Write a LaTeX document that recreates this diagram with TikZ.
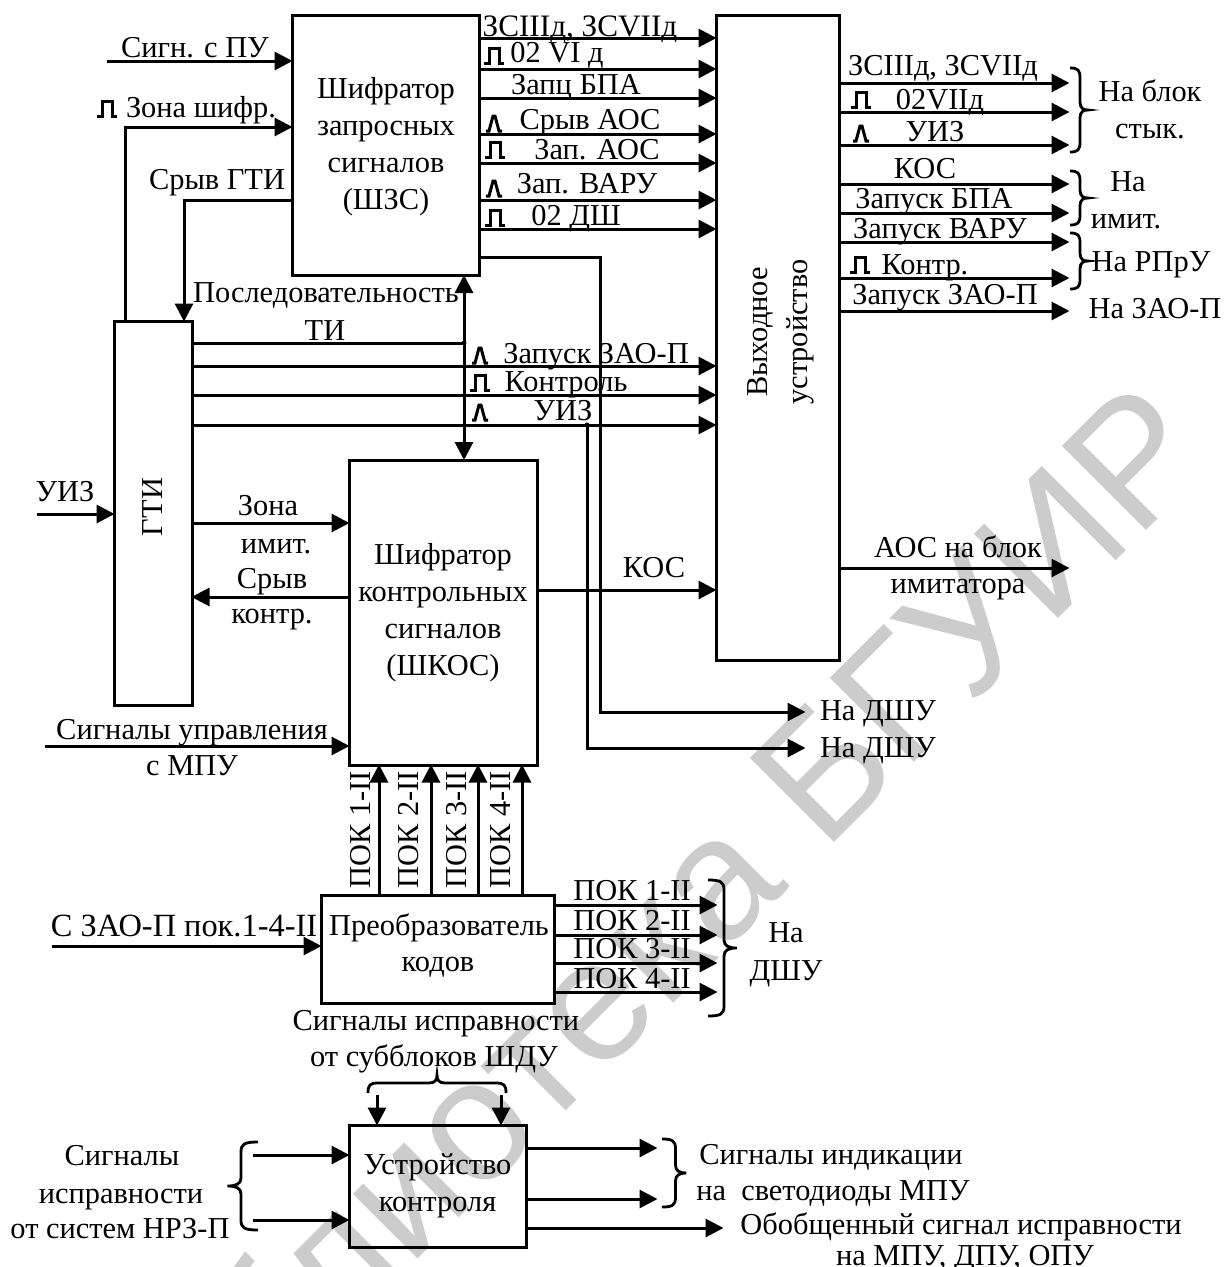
\documentclass[tikz,border=0pt]{standalone}
\usepackage{fontspec}
\setmainfont{Liberation Serif}
\newfontfamily\wmfont{Liberation Sans}
\usetikzlibrary{arrows.meta}
\tikzset{
  x=1pt,y=-1pt,
  lw/.style={line width=3pt},
  block/.style={draw,lw,inner sep=0pt,outer sep=0pt,align=center,font=\fontsize{30.4}{37}\selectfont},
  blocktext/.style={inner sep=0pt,outer sep=0pt,align=center,font=\fontsize{30.4}{37}\selectfont},
  lab/.style={inner sep=0pt,outer sep=0pt,font=\fontsize{30.4}{36}\selectfont,text height=20pt,text depth=0pt},
  arr/.style={lw,-{Triangle[length=18pt,width=18pt]},shorten >=-0.5pt},
  biarr/.style={lw,{Triangle[length=18pt,width=18pt]}-{Triangle[length=18pt,width=18pt]}},
  wire/.style={lw},
  brc/.style={line width=2.8pt},
  sym/.style={line width=3pt,line join=miter},
  pulsesym/.pic={\draw[sym] (-10,0) -- (-5,0) -- (-5,-15) -- (5,-15) -- (5,0) -- (10,0);},
  spikesym/.pic={\draw[sym] (-8,0) -- (-5,0) -- (-1,-15) -- (1,-15) -- (5,0) -- (8,0);},
}
\newcommand\bracedraw[4][]{%
  \begin{scope}[shift={(#2,#3)},#1]
  \pgfmathsetmacro\Lh{#4}
  \draw[brc] (0,-\Lh) .. controls (8,-\Lh) and (10,{-\Lh+2}) .. (10,{-\Lh+10})
    -- (10,-8) .. controls (10,-2) and (13,0) .. (18,0)
    .. controls (13,0) and (10,2) .. (10,8)
    -- (10,{\Lh-10}) .. controls (10,{\Lh-2}) and (8,\Lh) .. (0,\Lh);
  \end{scope}}
\begin{document}
\begin{tikzpicture}
\useasboundingbox (0,0) rectangle (1226,1267);
% watermark
\node[inner sep=0pt,anchor=base east,rotate=45,text=black!20,font={\wmfont\fontsize{173}{173}\selectfont}] (wm) at (1218,459) {Библиотека БГУИР};
% blocks
\node[block,minimum width=187pt,minimum height=260pt] (shz) at (385.5,145) {};
\node[blocktext] (shzt) at (386,147) {Шифратор\\запросных\\сигналов\\(ШЗС)};
\node[block,minimum width=123pt,minimum height=645pt] (vy) at (777.5,338) {};
\node[block,minimum width=78pt,minimum height=384pt] (gti) at (153,513) {};
\node[block,minimum width=188pt,minimum height=305pt] (shk) at (443,612.5) {Шифратор\\контрольных\\сигналов\\(ШКОС)};
\node[block,minimum width=233pt,minimum height=108pt] (pk) at (437.5,949) {};
\node[block,minimum width=177pt,minimum height=122pt] (uk) at (437.5,1186) {Устройство\\контроля};
\node[lab,rotate=90] (vy1) at (757,332) {Выходное};
\node[lab,rotate=90] (vy2) at (797,332) {устройство};
\node[lab,rotate=90] (gtit) at (152,507) {ГТИ};
\node[lab] (pk1) at (439,925) {Преобразователь};
\node[lab] (pk2) at (438,961) {кодов};
% free ends
\coordinate (c1) at (107,61);
\coordinate (c2) at (125,127);
\coordinate (c3) at (184,200);
\coordinate (c4) at (37,514);
\coordinate (c5) at (45,746);
\coordinate (c6) at (52,946);
\coordinate (d1) at (464,343);
\coordinate (d2) at (587,425);
\coordinate (e1) at (805,712);
\coordinate (e2) at (805,748);
% inputs
\draw[arr] (c1) -- (shz.west |- c1);
\draw[arr] (c2 |- gti.north) -- (c2) -- (shz.west |- c2);
\draw[arr] (shz.west |- c3) -- (c3) -- (c3 |- gti.north);
\draw[arr] (c4) -- (gti.west |- c4);
\draw[arr] (c5) -- (shk.west |- c5);
\draw[arr] (c6) -- (pk.west |- c6);
% SHZ to output
\foreach \yy in {38,69,98,134,163,200,229}
  \draw[arr] (shz.east |- 0,\yy) -- (vy.west |- 0,\yy);
\draw[arr] (shz.east |- 0,257) -- (600,257) -- (600,0 |- e1) -- (e1);
% GTI
\draw[wire] (gti.east |- d1) -- (d1);
\fill (d1) circle (2.5pt);
\draw[biarr] (shz.south -| d1) -- (shk.north -| d1);
\foreach \yy in {366,395,425}
  \draw[arr] (gti.east |- 0,\yy) -- (vy.west |- 0,\yy);
\fill (d2) circle (2.5pt);
\draw[arr] (d2) -- (d2 |- e2) -- (e2);
\draw[arr] (gti.east |- 0,523) -- (shk.west |- 0,523);
\draw[arr] (shk.west |- 0,597) -- (gti.east |- 0,597);
\draw[arr] (shk.east |- 0,590) -- (vy.west |- 0,590);
% output
\coordinate (o1) at (1069,0);
\foreach \yy in {83,112,145,184,213,242,278,311,568}
  \draw[arr] (vy.east |- 0,\yy) -- (o1 |- 0,\yy);
% PK
\foreach \xx in {379,431,478,522}
  \draw[arr] (pk.north -| \xx,0) -- (shk.south -| \xx,0);
\coordinate (o2) at (717,0);
\foreach \yy in {905,935,963,992}
  \draw[arr] (pk.east |- 0,\yy) -- (o2 |- 0,\yy);
% UK
\coordinate (t1) at (377,1095);
\coordinate (t2) at (501,1095);
\draw[arr] (t1) -- (t1 |- uk.north);
\draw[arr] (t2) -- (t2 |- uk.north);
\coordinate (i1) at (253,1155);
\coordinate (i2) at (253,1220);
\draw[arr] (i1) -- (uk.west |- i1);
\draw[arr] (i2) -- (uk.west |- i2);
\coordinate (u1) at (657,1148);
\coordinate (u2) at (657,1199);
\coordinate (u3) at (723,1228);
\draw[arr] (uk.east |- u1) -- (u1);
\draw[arr] (uk.east |- u2) -- (u2);
\draw[arr] (uk.east |- u3) -- (u3);
% braces
\bracedraw{1070}{110}{42}
\bracedraw{1070}{198}{27}
\bracedraw{1070}{261}{28}
\bracedraw[xscale=1.6]{708}{948}{68}
\bracedraw[xscale=1.35]{662}{1173}{34}
\bracedraw[xscale=-1.7]{258}{1186}{44}
\bracedraw[rotate=90]{437}{1093}{69}
% symbols
\path (494,63) pic {pulsesym} (494,131) pic {spikesym} (495,157) pic {pulsesym}
  (494,196) pic {spikesym} (495,225) pic {pulsesym} (107,116) pic {pulsesym}
  (480,363) pic {spikesym} (480,390) pic {pulsesym} (480,420) pic {spikesym}
  (861,107) pic {pulsesym} (861,141) pic {spikesym} (860,272) pic {pulsesym};
% labels
\node[lab] (l1) at (195,47) {Сигн. с ПУ};
\node[lab] (l2) at (201,107) {Зона шифр.};
\node[lab] (l3) at (217,179) {Срыв ГТИ};
\node[lab,font=\fontsize{31.2}{36}\selectfont] (l4) at (580,26) {ЗСIIIд, ЗСVIIд};
\node[lab] (l5) at (557,52) {02 VI д};
\node[lab] (l6) at (576,84) {Запц БПА};
\node[lab] (l7) at (590,119) {Срыв АОС};
\node[lab] (l8) at (597,149) {Зап. АОС};
\node[lab] (l9) at (587,183) {Зап. ВАРУ};
\node[lab] (l10) at (576,215) {02 ДШ};
\node[lab] (l11) at (326,292) {Последовательность};
\node[lab] (l12) at (325,330) {ТИ};
\node[lab] (l13) at (596,353) {Запуск ЗАО-П};
\node[lab] (l14) at (566,381) {Контроль};
\node[lab] (l15) at (563,410) {УИЗ};
\node[lab] (l16) at (65,491) {УИЗ};
\node[lab] (l17) at (268,505) {Зона};
\node[lab] (l18) at (276,543) {имит.};
\node[lab] (l19) at (272,578) {Срыв};
\node[lab] (l20) at (272,613) {контр.};
\node[lab] (l21) at (654,567) {КОС};
\node[lab] (l22) at (958,547) {АОС на блок};
\node[lab] (l23) at (958,583) {имитатора};
\node[lab] (l24) at (878,710) {На ДШУ};
\node[lab] (l25) at (878,747) {На ДШУ};
\node[lab] (l26) at (192,729) {Сигналы управления};
\node[lab] (l27) at (192,765) {с МПУ};
\node[lab,font=\fontsize{32.4}{36}\selectfont] (l28) at (184,926) {С ЗАО-П пок.1-4-II};
\node[lab,rotate=90] (p1) at (360,830) {ПОК 1-II};
\node[lab,rotate=90] (p2) at (408,830) {ПОК 2-II};
\node[lab,rotate=90] (p3) at (456,830) {ПОК 3-II};
\node[lab,rotate=90] (p4) at (500,830) {ПОК 4-II};
\node[lab] (q1) at (632,890) {ПОК 1-II};
\node[lab] (q2) at (632,920) {ПОК 2-II};
\node[lab] (q3) at (632,948) {ПОК 3-II};
\node[lab] (q4) at (632,978) {ПОК 4-II};
\node[lab] (l29) at (786,932) {На};
\node[lab] (l30) at (786,970) {ДШУ};
\node[lab] (l31) at (436,1020) {Сигналы исправности};
\node[lab] (l32) at (434,1056) {от субблоков ШДУ};
\node[lab] (l33) at (122,1155) {Сигналы};
\node[lab] (l34) at (121,1193) {исправности};
\node[lab] (l35) at (120,1228) {от систем НРЗ-П};
\node[lab] (l36) at (831,1154) {Сигналы индикации};
\node[lab] (l37) at (833,1190) {на\ \ светодиоды МПУ};
\node[lab] (l38) at (961,1224) {Обобщенный сигнал исправности};
\node[lab] (l39) at (965,1255) {на МПУ, ДПУ, ОПУ};
\node[lab] (r1) at (943,65) {ЗСIIIд, ЗСVIIд};
\node[lab] (r2) at (940,99) {02VIIд};
\node[lab] (r3) at (935,131) {УИЗ};
\node[lab] (r4) at (925,168) {КОС};
\node[lab] (r5) at (934,198) {Запуск БПА};
\node[lab] (r6) at (940,228) {Запуск ВАРУ};
\node[lab] (r7) at (925,264) {Контр.};
\node[lab] (r8) at (945,294) {Запуск ЗАО-П};
\node[lab] (r9) at (1150,91) {На блок};
\node[lab] (r10) at (1150,128) {стык.};
\node[lab] (r11) at (1128,181) {На};
\node[lab] (r12) at (1126,218) {имит.};
\node[lab] (r13) at (1151,261) {На РПрУ};
\node[lab] (r14) at (1155,308) {На ЗАО-П};
\end{tikzpicture}
\end{document}
